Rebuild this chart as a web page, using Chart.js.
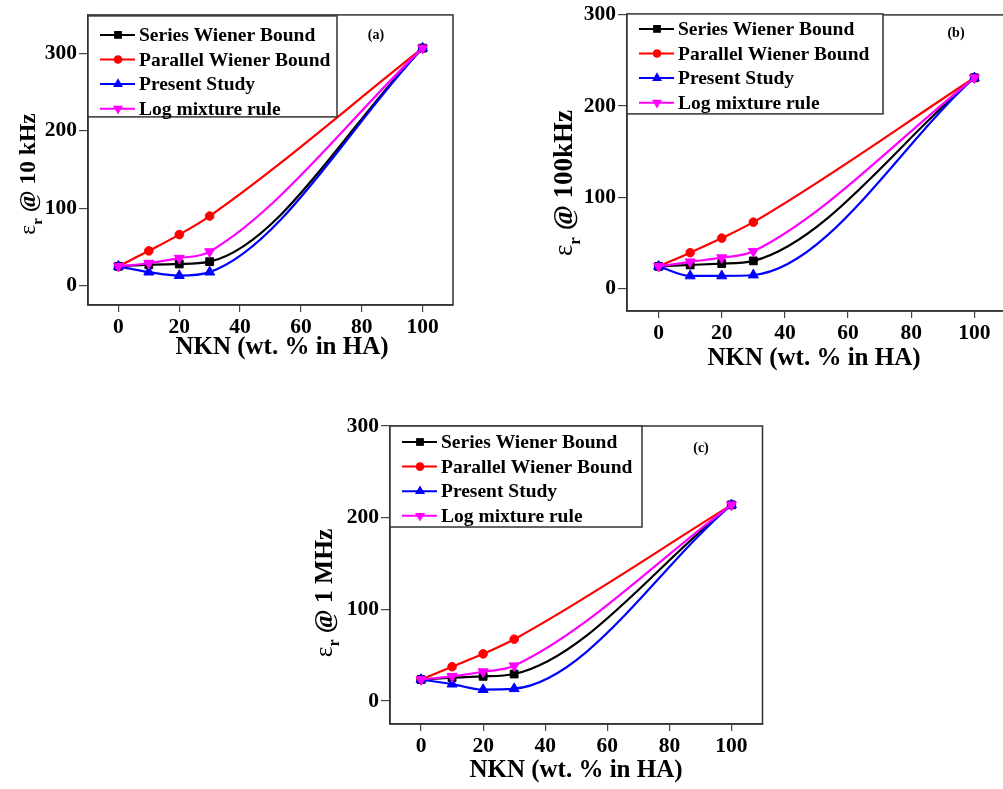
<!DOCTYPE html>
<html>
<head>
<meta charset="utf-8">
<script src="https://cdn.jsdelivr.net/npm/chart.js@4.4.1/dist/chart.umd.min.js"></script>
<style>
  body { margin: 0; width: 1003px; height: 789px; overflow: hidden; background: #fff; position: relative; }
  canvas { position: absolute; }
</style>
</head>
<body>
<canvas id="ca" width="480" height="380" style="left:0px;top:0px"></canvas>
<canvas id="cb" width="480" height="380" style="left:540px;top:0px"></canvas>
<canvas id="cc" width="480" height="379" style="left:300px;top:410px"></canvas>
<script>
// data
const nkn = [0, 10, 20, 30, 100]
const xTicks = [0, 20, 40, 60, 80, 100]
const yTicks = [0, 100, 200, 300]
const names = ['Series Wiener Bound', 'Parallel Wiener Bound', 'Present Study', 'Log mixture rule']

const seriesA = [25, 27, 28, 31, 307]
const parallelA = [25, 45, 66, 90, 307]
const presentA = [25, 17.5, 13, 17.5, 307]
const logA = [25, 29, 35.5, 44, 307]

const seriesB = [24, 25.5, 27, 30, 231]
const parallelB = [24, 39, 55, 72.5, 231]
const presentB = [24, 13.5, 13.5, 14.5, 231]
const logB = [24, 29, 33.5, 40.5, 231]

const seriesC = [23.5, 25.5, 27, 29.5, 214]
const parallelC = [23.5, 37.5, 51.5, 67.5, 214]
const presentC = [23.5, 18.5, 12.5, 13.5, 214]
const logC = [23.5, 27, 32, 38.5, 214]

const colors = ['#000000', '#ff0000', '#0000ff', '#ff00ff']
const styles = [
    { pointStyle: 'rect', radius: 5.5, rotation: 0 },
    { pointStyle: 'circle', radius: 4.3, rotation: 0 },
    { pointStyle: 'triangle', radius: 5.8, rotation: 0 },
    { pointStyle: 'triangle', radius: 5.8, rotation: 180 }
]
const drawOrder = [2, 3, 1, 0]

const serif = '"Liberation Serif", "Times New Roman", serif'

// canvas-relative layout of each panel
const panels = [
    { id: 'ca', label: '(a)', freq: '10 kHz', values: [seriesA, parallelA, presentA, logA],
      area: { left: 88, top: 13, right: 453, bottom: 305 }, yMax: 350,
      yTitle: { x: 35, y: 174, size: 23.5 }, xTitle: { x: 282, y: 354 }, tag: { x: 376, y: 35 },
      legend: { top: 1, width: 249, height: 101, row0: 19 } },
    { id: 'cb', label: '(b)', freq: '100kHz', values: [seriesB, parallelB, presentB, logB],
      area: { left: 87, top: 13, right: 466, bottom: 311 }, yMax: 300,
      yTitle: { x: 32, y: 183, size: 27 }, xTitle: { x: 274, y: 365 }, tag: { x: 416, y: 33 },
      legend: { top: -1, width: 256, height: 100, row0: 15 } },
    { id: 'cc', label: '(c)', freq: '1 MHz', values: [seriesC, parallelC, presentC, logC],
      area: { left: 90, top: 16, right: 462.5, bottom: 314 }, yMax: 300,
      yTitle: { x: 32, y: 183, size: 25.5 }, xTitle: { x: 276, y: 367 }, tag: { x: 401, y: 38 },
      legend: { top: 0, width: 252, height: 101, row0: 16 } }
]

function drawYTitle(ctx, t, freq) {
    const big = 'bold ' + t.size + 'px ' + serif
    const eps = t.size + 'px ' + serif
    const sub = 'bold ' + Math.round(t.size * 0.62) + 'px ' + serif
    const rest = ' @ ' + freq
    ctx.save()
    ctx.translate(t.x, t.y)
    ctx.rotate(-Math.PI / 2)
    ctx.fillStyle = '#000'
    ctx.textBaseline = 'alphabetic'
    ctx.textAlign = 'left'
    ctx.font = eps
    const we = ctx.measureText('ε').width
    ctx.font = sub
    const wr = ctx.measureText('r').width
    ctx.font = big
    const wt = ctx.measureText(rest).width
    let cx = -(we + wr + wt) / 2
    ctx.font = eps
    ctx.fillText('ε', cx, 0)
    cx += we
    ctx.font = sub
    ctx.fillText('r', cx, t.size * 0.28)
    cx += wr
    ctx.font = big
    ctx.fillText(rest, cx, 0)
    ctx.restore()
}

const decor = {
    id: 'decor',
    afterDraw(chart, args, opts) {
        const { ctx, chartArea: a } = chart
        const p = opts.panel
        ctx.save()
        ctx.strokeStyle = '#333'
        ctx.lineWidth = 1.5
        ctx.strokeRect(a.left, a.top, a.right - a.left, a.bottom - a.top)

        // legend box
        const lg = p.legend
        const lx = a.left, ly = a.top + lg.top
        ctx.fillStyle = '#fff'
        ctx.fillRect(lx, ly, lg.width, lg.height)
        ctx.strokeRect(lx, ly, lg.width, lg.height)
        ctx.font = 'bold 19.5px ' + serif
        ctx.textBaseline = 'middle'
        ctx.textAlign = 'left'
        names.forEach((n, i) => {
            const ry = ly + lg.row0 + i * 24.6
            ctx.strokeStyle = colors[i]
            ctx.lineWidth = 2
            ctx.beginPath()
            ctx.moveTo(lx + 12, ry)
            ctx.lineTo(lx + 47, ry)
            ctx.stroke()
            ctx.fillStyle = colors[i]
            ctx.lineWidth = 1
            Chart.helpers.drawPoint(ctx, styles[i], lx + 30, ry)
            ctx.fillStyle = '#000'
            ctx.fillText(n, lx + 51, ry + 1)
        })

        // panel tag
        ctx.font = 'bold 14px ' + serif
        ctx.textAlign = 'center'
        ctx.fillText(p.label, p.tag.x, p.tag.y)

        // x axis title
        ctx.font = 'bold 25px ' + serif
        ctx.textBaseline = 'alphabetic'
        ctx.fillText('NKN (wt. % in HA)', p.xTitle.x, p.xTitle.y)
        ctx.restore()
        drawYTitle(ctx, p.yTitle, p.freq)
    }
}

const tickFont = { family: serif, size: 21.5, weight: 'bold' }

panels.forEach(p => {
    const canvas = document.getElementById(p.id)
    const W = canvas.width, H = canvas.height
    const datasets = p.values.map((vals, i) => ({
        label: names[i],
        data: nkn.map((x, k) => ({ x: x, y: vals[k] })),
        borderColor: colors[i],
        backgroundColor: colors[i],
        pointBackgroundColor: colors[i],
        pointBorderColor: colors[i],
        pointStyle: styles[i].pointStyle,
        pointRadius: styles[i].radius,
        pointRotation: styles[i].rotation,
        pointBorderWidth: 1,
        borderWidth: 2.2,
        cubicInterpolationMode: 'monotone',
        order: drawOrder[i]
    }))

    new Chart(canvas, {
        type: 'line',
        data: { datasets: datasets },
        plugins: [decor],
        options: {
            responsive: false,
            animation: false,
            events: [],
            layout: { padding: { left: 0, top: p.area.top, right: W - p.area.right, bottom: 0 } },
            plugins: {
                legend: { display: false },
                tooltip: { enabled: false },
                decor: { panel: p }
            },
            scales: {
                x: {
                    type: 'linear',
                    min: -10,
                    max: 110,
                    afterBuildTicks: ax => { ax.ticks = xTicks.map(v => ({ value: v })) },
                    afterFit: ax => { ax.height = H - p.area.bottom },
                    grid: { display: true, drawOnChartArea: false, drawTicks: true, tickLength: 7, color: '#444', lineWidth: 1.2 },
                    border: { display: true, color: '#333', width: 1.5 },
                    ticks: { font: tickFont, color: '#000', padding: 3, maxRotation: 0 }
                },
                y: {
                    type: 'linear',
                    min: -25,
                    max: p.yMax,
                    afterBuildTicks: ax => { ax.ticks = yTicks.map(v => ({ value: v })) },
                    afterFit: ax => { ax.width = p.area.left },
                    grid: { display: true, drawOnChartArea: false, drawTicks: true, tickLength: 9, color: '#444', lineWidth: 1.2 },
                    border: { display: true, color: '#333', width: 1.5 },
                    ticks: { font: tickFont, color: '#000', padding: 2 }
                }
            }
        }
    })
})
</script>
</body>
</html>
